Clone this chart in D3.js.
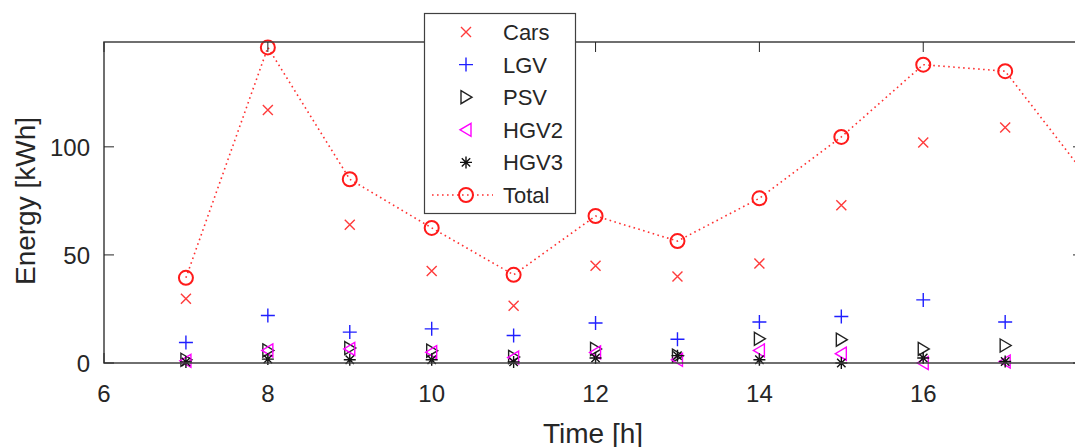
<!DOCTYPE html>
<html>
<head>
<meta charset="utf-8">
<script src="https://cdn.jsdelivr.net/npm/d3@7"></script>
<style>
  body { margin: 0; background: #fff; }
  text { font-family: Arial, "Liberation Sans", sans-serif; fill: #262626; }
</style>
</head>
<body>
<div id="chart"></div>
<script>
// hours of the day
var hours = [7, 8, 9, 10, 11, 12, 13, 14, 15, 16, 17, 18];
// energy per vehicle class [kWh] (null = outside the visible picture)
var cars  = [29.7, 117, 64, 42.6, 26.5, 45, 40, 46, 73, 102, 109, null];
var lgv   = [9.5, 22, 14.3, 15.8, 12.7, 18.5, 11, 19, 21.5, 29.2, 19, null];
var psv   = [1.5, 5.8, 6.9, 5.7, 2.8, 6.5, 3.4, 11.2, 10.8, 6.5, 8.1, null];
var hgv2  = [1, 5.8, 6.5, 5, 2.5, 4.9, 1.5, 5.8, 4.3, 0, 0.7, null];
var hgv3  = [0.5, 1.8, 1.5, 1.5, 0.5, 2.3, 3.4, 1.5, 0, 2.3, 0.7, null];
var total = [39.4, 146, 85, 62.5, 40.8, 68, 56.4, 76.2, 104.6, 138, 135, 86];

var xTicks = [6, 8, 10, 12, 14, 16];
var yTicks = [0, 50, 100];

var width = 1075, height = 447;
var mLeft = 104, mRight = 1083, mTop = 42, mBottom = 363;

var svg = d3.select("#chart").append("svg")
  .attr("width", width).attr("height", height);

var x = d3.scaleLinear().domain([6, 17.95]).range([mLeft, mRight]);
var y = d3.scaleLinear().domain([0, 148.5]).range([mBottom, mTop]);

var axisColor = "#262626";

// marker shapes
var shapes = {
  x: "M-5,-5L5,5M-5,5L5,-5",
  plus: "M-7,0H7M0,-7V7",
  tri_right: "M-5,-6.5L6,0L-5,6.5Z",
  tri_left: "M5,-6.5L-6,0L5,6.5Z",
  star: "M-6,0H6M0,-6V6M-4.2,-4.2L4.2,4.2M-4.2,4.2L4.2,-4.2",
  circle: "M-7,0A7,7 0 1,0 7,0A7,7 0 1,0 -7,0Z"
};

var series = [
  {name: "Cars", values: cars, shape: "x", color: "#ff3b3b", line: false},
  {name: "LGV", values: lgv, shape: "plus", color: "#1f1fff", line: false},
  {name: "PSV", values: psv, shape: "tri_right", color: "#222", line: false},
  {name: "HGV2", values: hgv2, shape: "tri_left", color: "#ff00ff", line: false},
  {name: "HGV3", values: hgv3, shape: "star", color: "#111", line: false},
  {name: "Total", values: total, shape: "circle", color: "#ff1a1a", line: true}
];

svg.append("clipPath").attr("id", "clip")
  .append("rect").attr("x", mLeft - 10).attr("y", mTop - 10)
  .attr("width", mRight - mLeft + 10).attr("height", mBottom - mTop + 20);

var plot = svg.append("g").attr("clip-path", "url(#clip)");

series.forEach(function(s) {
  var pts = hours.map(function(h, i) { return {h: h, v: s.values[i]}; })
    .filter(function(d) { return d.v != null; });
  if (s.line) {
    plot.append("path")
      .datum(pts)
      .attr("fill", "none")
      .attr("stroke", "#ff3030")
      .attr("stroke-width", 1.6)
      .attr("stroke-dasharray", "1.6,3.4")
      .attr("d", d3.line().x(function(d) { return x(d.h); }).y(function(d) { return y(d.v); }));
  }
  plot.append("g").selectAll("path")
    .data(pts)
    .enter().append("path")
      .attr("transform", function(d) { return "translate(" + x(d.h) + "," + y(d.v) + ")"; })
      .attr("d", shapes[s.shape])
      .attr("fill", "none")
      .attr("stroke", s.color)
      .attr("stroke-width", s.shape == "circle" ? 2 : 1.4);
});

// box + ticks
var frame = svg.append("g").attr("stroke", axisColor).attr("fill", "none");
frame.append("rect")
  .attr("x", mLeft).attr("y", mTop)
  .attr("width", mRight - mLeft).attr("height", mBottom - mTop)
  .attr("stroke-width", 1.5).attr("stroke", "#404040");

xTicks.forEach(function(t) {
  frame.append("line").attr("x1", x(t)).attr("x2", x(t)).attr("y1", mBottom).attr("y2", mBottom - 10);
  frame.append("line").attr("x1", x(t)).attr("x2", x(t)).attr("y1", mTop).attr("y2", mTop + 10);
});
yTicks.forEach(function(t) {
  frame.append("line").attr("x1", mLeft).attr("x2", mLeft + 10).attr("y1", y(t)).attr("y2", y(t));
  frame.append("line").attr("x1", mRight).attr("x2", mRight - 10).attr("y1", y(t)).attr("y2", y(t));
});

svg.append("g").selectAll("text")
  .data(xTicks)
  .enter().append("text")
    .attr("x", function(d) { return x(d); })
    .attr("y", 402)
    .attr("text-anchor", "middle")
    .attr("font-size", 24)
    .text(function(d) { return d; });

svg.append("g").selectAll("text")
  .data(yTicks)
  .enter().append("text")
    .attr("x", mLeft - 14)
    .attr("y", function(d) { return y(d) + 9; })
    .attr("text-anchor", "end")
    .attr("font-size", 24)
    .text(function(d) { return d; });

svg.append("text")
  .attr("x", 593).attr("y", 443)
  .attr("text-anchor", "middle")
  .attr("font-size", 28)
  .text("Time [h]");

svg.append("text")
  .attr("transform", "translate(35,201) rotate(-90)")
  .attr("text-anchor", "middle")
  .attr("font-size", 28)
  .text("Energy [kWh]");

// legend
var lg = svg.append("g");
lg.append("rect")
  .attr("x", 424.5).attr("y", 13.5)
  .attr("width", 151).attr("height", 200)
  .attr("fill", "#fff").attr("stroke", "#404040").attr("stroke-width", 1.2);

series.forEach(function(s, i) {
  var ly = 32 + i * 32.6;
  if (s.line) {
    lg.append("line")
      .attr("x1", 432).attr("x2", 493).attr("y1", ly).attr("y2", ly)
      .attr("stroke", "#ff3030").attr("stroke-width", 1.6)
      .attr("stroke-dasharray", "1.6,3.4");
  }
  lg.append("path")
    .attr("transform", "translate(466," + ly + ")")
    .attr("d", shapes[s.shape])
    .attr("fill", "none")
    .attr("stroke", s.color)
    .attr("stroke-width", s.shape == "circle" ? 2 : 1.4);
  lg.append("text")
    .attr("x", 503).attr("y", ly + 8)
    .attr("font-size", 22)
    .text(s.name);
});
</script>
</body>
</html>
